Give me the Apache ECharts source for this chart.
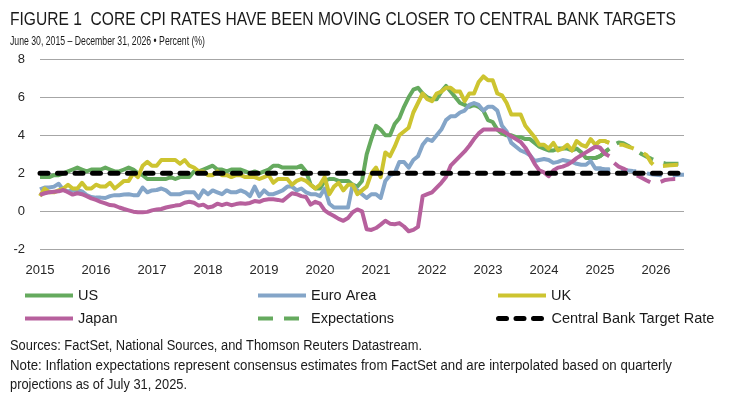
<!DOCTYPE html>
<html>
<head>
<meta charset="utf-8">
<script src="https://cdn.jsdelivr.net/npm/echarts@6/dist/echarts.min.js"></script>
<style>
  html, body { margin: 0; padding: 0; background: #ffffff; }
  #chart { width: 733px; height: 397px; }
</style>
</head>
<body>
<div id="chart"></div>
<script>
// ---- Data (monthly, June 2015 .. December 2026) ----
const startYear = 2015, startMonth = 6, monthCount = 139;
const yTicks = [-2, 0, 2, 4, 6, 8];

// Actual core CPI, June 2015 .. August 2025
const us = [
  1.8,1.8,1.8,1.9,1.9,2.0,2.1,
  2.2,2.3,2.2,2.1,2.2,2.2,2.2,2.3,2.2,2.1,2.1,2.2,
  2.3,2.2,2.0,1.9,1.7,1.7,1.7,1.7,1.7,1.8,1.7,1.8,
  1.8,1.8,2.1,2.1,2.2,2.3,2.4,2.2,2.2,2.1,2.2,2.2,
  2.2,2.1,2.0,2.1,2.0,2.1,2.2,2.4,2.4,2.3,2.3,2.3,
  2.3,2.4,2.1,1.4,1.2,1.2,1.6,1.7,1.7,1.6,1.6,1.6,
  1.4,1.3,1.6,3.0,3.8,4.5,4.3,4.0,4.0,4.6,4.9,5.5,
  6.0,6.4,6.5,6.2,6.0,5.9,5.9,6.3,6.6,6.3,6.0,5.7,
  5.6,5.5,5.6,5.5,5.3,4.8,4.7,4.3,4.1,4.0,4.0,3.9,
  3.9,3.8,3.8,3.6,3.4,3.3,3.2,3.2,3.3,3.3,3.3,3.2,
  3.3,3.1,2.8,2.8,2.8,2.9,3.1,3.3
];
const euroArea = [
  1.15,1.25,1.25,1.3,1.45,1.12,1.05,1.1,1.12,1.05,
  0.85,0.75,0.72,0.72,0.7,0.8,0.85,0.85,0.88,0.9,0.85,0.85,1.25,1.0,1.1,1.12,
  1.2,1.1,0.9,0.9,0.9,
  1.0,1.0,1.0,0.7,1.1,0.9,1.1,1.0,0.9,1.1,1.0,1.0,
  1.1,1.0,0.8,1.3,0.8,1.1,0.9,0.9,1.0,1.1,1.3,1.3,
  1.1,1.2,1.0,0.9,0.9,0.8,1.2,0.4,0.2,0.2,0.2,0.2,
  1.4,1.1,0.9,0.7,0.9,0.9,0.7,1.6,1.9,2.0,2.6,2.6,
  2.3,2.7,2.9,3.5,3.8,3.7,4.0,4.3,4.8,5.0,5.0,5.2,
  5.3,5.6,5.7,5.6,5.3,5.5,5.5,5.3,4.5,4.2,3.6,3.4,
  3.2,3.1,2.95,2.65,2.7,2.75,2.7,2.55,2.6,2.7,2.65,2.6,
  2.5,2.45,2.45,2.65,2.25,2.25,2.2,2.2
];
const uk = [
  0.8,1.2,1.0,1.0,1.1,1.2,1.4,
  1.2,1.2,1.5,1.2,1.2,1.4,1.3,1.3,1.5,1.2,1.4,1.6,
  1.6,2.0,1.8,2.4,2.6,2.4,2.4,2.7,2.7,2.7,2.7,2.5,
  2.7,2.4,2.3,2.1,2.1,1.9,1.9,2.1,1.9,1.9,1.8,1.9,
  1.9,1.8,1.8,1.8,1.7,1.8,1.9,1.5,1.7,1.7,1.7,1.4,
  1.6,1.7,1.6,1.4,1.2,1.4,1.8,0.9,1.3,1.5,1.1,1.4,
  1.4,0.9,1.1,1.3,2.0,2.3,1.8,3.1,2.9,3.4,4.0,4.2,
  4.4,5.2,5.7,6.2,5.9,5.8,6.2,6.3,6.5,6.5,6.3,6.3,
  5.8,6.2,6.2,6.8,7.1,6.9,6.9,6.2,6.1,5.7,5.1,5.1,
  5.1,4.5,4.2,3.9,3.5,3.5,3.3,3.6,3.2,3.3,3.5,3.2,
  3.7,3.5,3.4,3.8,3.5,3.7,3.7,3.6
];
const japan = [
  0.86,0.95,1.0,1.03,1.05,1.12,1.0,0.88,0.95,0.9,
  0.8,0.68,0.6,0.5,0.42,0.33,0.3,0.2,0.12,0.05,
  -0.02,-0.05,-0.05,-0.03,0.05,0.1,0.12,0.2,0.25,0.3,
  0.33,0.45,0.5,0.45,0.3,0.35,0.2,0.25,0.4,0.32,
  0.4,0.32,0.38,0.42,0.4,0.44,0.54,0.5,0.6,0.63,
  0.63,0.6,0.55,0.75,0.95,0.9,0.8,0.75,0.35,0.5,
  0.4,0.05,-0.12,-0.25,-0.4,-0.5,-0.35,-0.05,0.1,0.0,
  -0.95,-0.98,-0.88,-0.7,-0.5,-0.65,-0.68,-0.62,-0.8,-1.05,
  -0.98,-0.82,0.8,0.9,1.0,1.25,1.5,1.8,2.4,2.65,
  2.9,3.15,3.45,3.8,4.1,4.3,4.3,4.3,4.3,4.25,
  4.1,3.95,3.8,3.65,3.35,2.95,2.5,2.15,2.05,1.85,
  2.15,2.3,2.35,2.45,2.6,2.8,2.95,3.1,3.25,3.4,
  3.35,3.05,2.9
];

// Expectations, May 2025 .. December 2026
const expStart = 119;
const usExp    = [2.8,2.9,3.1,3.3,3.5,3.62,3.58,3.45,3.3,3.15,3.0,2.88,2.76,2.65,2.57,2.52,2.5,2.5,2.5,2.48];
const euroExp  = [2.25,2.25,2.2,2.2,2.22,2.2,2.18,2.15,2.12,2.1,2.05,2.0,1.95,1.92,1.9,1.9,1.9,1.9,1.92,1.92];
const ukExp    = [3.5,3.7,3.7,3.6,3.53,3.5,3.5,3.4,3.32,3.22,3.1,2.95,2.55,2.32,2.38,2.4,2.42,2.44,2.45,2.45];
const japanExp = [3.4,3.35,3.05,2.9,2.55,2.35,2.25,2.12,2.0,1.88,1.75,1.62,1.5,1.45,1.55,1.65,1.68,1.7,1.7,1.72];

const targetRate = 2;

// ---- Build ----
const months = [];
for (let i = 0; i < monthCount; i++) {
  const t = startMonth - 1 + i;
  const y = startYear + Math.floor(t / 12);
  const m = (t % 12) + 1;
  months.push(y + '-' + (m < 10 ? '0' + m : m));
}
function padEnd(arr) { return arr.concat(new Array(monthCount - arr.length).fill(null)); }
function padStart(arr) { return new Array(expStart).fill(null).concat(arr); }

const C = { us: '#65aa5e', eu: '#84a5c8', uk: '#cdc430', jp: '#b7609d' };
const FA = '"Liberation Sans", Arial, sans-serif';
const expDash = [15, 11];
const targetDash = [8, 9.5];

const measureCtx = document.createElement('canvas').getContext('2d');
function fitScale(text, font, targetWidth) {
  measureCtx.font = font;
  const w = measureCtx.measureText(text).width;
  return w > 0 ? targetWidth / w : 1;
}
function textEl(text, x, y, size, targetWidth) {
  const font = size + 'px ' + FA;
  return { type: 'text', x, y, scaleX: fitScale(text, font, targetWidth), scaleY: 1,
    style: { text, font, fill: '#1a1a1a', verticalAlign: 'middle' } };
}

function solid(name, data, color) {
  return { name, type: 'line', data: padEnd(data), symbol: 'none', showSymbol: false,
    lineStyle: { color, width: 4, join: 'round' }, itemStyle: { color } };
}
function dashed(data, color) {
  return { name: 'Expectations', type: 'line', data: padStart(data), symbol: 'none', showSymbol: false,
    lineStyle: { color, width: 4, type: expDash }, itemStyle: { color } };
}

function legendAt(name, left, top, width, dash) {
  return { data: [name], left, top, itemWidth: 48, itemHeight: 14, itemGap: 0, padding: 0,
    selectedMode: false,
    itemStyle: { color: 'rgba(0,0,0,0)', borderColor: 'rgba(0,0,0,0)', borderWidth: 0, opacity: 0 },
    lineStyle: { width: width, type: dash || 'solid' },
    textStyle: { fontFamily: FA, fontSize: 14.5, color: '#1a1a1a' } };
}

const chart = echarts.init(document.getElementById('chart'), null, { renderer: 'canvas' });

const option = {
  animation: false,
  backgroundColor: '#ffffff',
  grid: { left: 40, right: 49, top: 59.3, bottom: 147.7, containLabel: false },
  xAxis: {
    type: 'category', data: months, boundaryGap: false,
    axisLine: { show: false, onZero: false }, axisTick: { show: false },
    splitLine: { show: false },
    axisLabel: {
      interval: function (i) { return i % 12 === 0; },
      formatter: function (v) { return v.slice(0, 4); },
      fontFamily: FA, fontSize: 13, color: '#262626', margin: 15
    }
  },
  yAxis: {
    type: 'value', min: yTicks[0], max: yTicks[yTicks.length - 1], interval: 2,
    axisLine: { show: false }, axisTick: { show: false },
    splitLine: { show: true, lineStyle: { color: '#a6a6a6', width: 1 } },
    axisLabel: { fontFamily: FA, fontSize: 13, color: '#262626', margin: 15 }
  },
  legend: [
    legendAt('US', 23, 288, 4),
    legendAt('Euro Area', 256, 288, 4),
    legendAt('UK', 496, 288, 4),
    legendAt('Japan', 23, 311, 4),
    legendAt('Expectations', 256, 311, 4, expDash),
    legendAt('Central Bank Target Rate', 496, 311, 5, targetDash)
  ],
  series: [
    dashed(usExp, C.us),
    dashed(euroExp, C.eu),
    dashed(ukExp, C.uk),
    dashed(japanExp, C.jp),
    solid('US', us, C.us),
    solid('Euro Area', euroArea, C.eu),
    solid('UK', uk, C.uk),
    solid('Japan', japan, C.jp),
    { name: 'Central Bank Target Rate', type: 'line', data: months.map(() => targetRate),
      symbol: 'none', showSymbol: false,
      lineStyle: { color: '#000000', width: 5, type: targetDash, cap: 'round' },
      itemStyle: { color: '#000000' } }
  ],
  graphic: [
    textEl('FIGURE 1  CORE CPI RATES HAVE BEEN MOVING CLOSER TO CENTRAL BANK TARGETS', 10, 20, 18, 666),
    textEl('June 30, 2015 – December 31, 2026 • Percent (%)', 10, 41, 13.5, 195),
    textEl('Sources: FactSet, National Sources, and Thomson Reuters Datastream.', 10, 346, 14, 412),
    textEl('Note: Inflation expectations represent consensus estimates from FactSet and are interpolated based on quarterly', 10, 366, 14, 662),
    textEl('projections as of July 31, 2025.', 10, 385, 14, 177)
  ]
};
chart.setOption(option);
</script>
</body>
</html>
